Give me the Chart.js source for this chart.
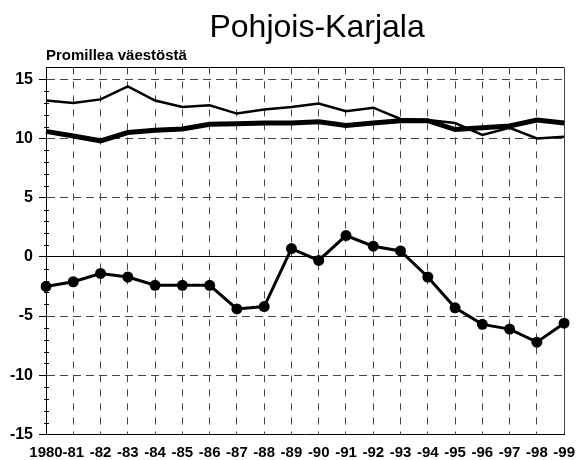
<!DOCTYPE html>
<html>
<head>
<meta charset="utf-8">
<script src="https://cdn.jsdelivr.net/npm/chart.js@4/dist/chart.umd.min.js"></script>
<style>
  body { margin: 0; background: #fff; }
  #wrap { width: 584px; height: 460px; }
</style>
</head>
<body>
<div id="wrap"><canvas id="chart"></canvas></div>
<script>
const years = ['1980', '-81', '-82', '-83', '-84', '-85', '-86', '-87', '-88', '-89',
               '-90', '-91', '-92', '-93', '-94', '-95', '-96', '-97', '-98', '-99'];
const netChange = [-2.5, -2.1, -1.4, -1.7, -2.4, -2.4, -2.4, -4.4, -4.2, 0.7,
                   -0.3, 1.8, 0.9, 0.5, -1.7, -4.3, -5.7, -6.1, -7.2, -5.6];
const thinSeries = [13.2, 13.0, 13.3, 14.4, 13.2, 12.65, 12.8, 12.1, 12.45, 12.65,
                    12.95, 12.3, 12.6, 11.65, 11.55, 11.3, 10.3, 10.9, 10.0, 10.15];
const thickSeries = [10.6, 10.2, 9.8, 10.5, 10.7, 10.8, 11.2, 11.25, 11.3, 11.3,
                     11.4, 11.1, 11.3, 11.5, 11.5, 10.75, 10.9, 11.05, 11.55, 11.3];
const yTicks = [-15, -10, -5, 0, 5, 10, 15];
const yMin = -15, yMax = 16;

const FONT = "'Liberation Sans', Arial, sans-serif";

// small tick marks on the y axis between the labelled ones
const minorTicks = {
    id: 'minorTicks',
    afterLayout(chart) {
        // title sits a bit right of the plot centre in the original
        if (chart.titleBlock) {
            chart.titleBlock.left += 12;
            chart.titleBlock.right += 12;
        }
    },
    afterDraw(chart) {
        const y = chart.scales.y;
        const c = chart.ctx;
        c.save();
        c.strokeStyle = '#000';
        c.lineWidth = 1;
        for (let v = yMin; v < 15; v++) {
            if (v % 5 === 0) continue;
            const py = Math.round(y.getPixelForValue(v)) + 0.5;
            c.beginPath();
            c.moveTo(y.right - 2, py);
            c.lineTo(y.right + 3, py);
            c.stroke();
        }
        c.restore();
    }
};

let ctx = document.getElementById('chart');

let myChart = new Chart(ctx, {
    type: 'line',
    data: {
        labels: years,
        datasets: [
            {
                data: netChange,
                borderColor: '#000',
                backgroundColor: '#000',
                borderWidth: 3,
                pointRadius: 5.5,
                pointBackgroundColor: '#000',
                pointBorderWidth: 0,
                tension: 0
            },
            {
                data: thinSeries,
                borderColor: '#000',
                borderWidth: 2.5,
                pointRadius: 0,
                tension: 0
            },
            {
                data: thickSeries,
                borderColor: '#000',
                borderWidth: 5,
                pointRadius: 0,
                tension: 0
            }
        ]
    },
    options: {
        responsive: true,
        maintainAspectRatio: false,
        animation: false,
        layout: { padding: { left: 0, right: 13, top: 0, bottom: 0 } },
        plugins: {
            legend: { display: false },
            tooltip: { enabled: false },
            title: {
                display: true,
                text: 'Pohjois-Karjala',
                fullSize: false,
                color: '#000',
                font: { family: FONT, size: 32, weight: 'normal', lineHeight: 1.0 },
                padding: { top: 12, bottom: 0 }
            },
            subtitle: {
                display: true,
                text: 'Promillea väestöstä',
                align: 'start',
                fullSize: false,
                color: '#000',
                font: { family: FONT, size: 15, weight: 'bold', lineHeight: 1.0 },
                padding: { top: 4.4, bottom: 4 }
            }
        },
        scales: {
            x: {
                offset: false,
                afterFit: s => { s.height = 25.5; },
                grid: {
                    color: '#444',
                    lineWidth: 1,
                    drawTicks: false
                },
                border: {
                    color: '#000',
                    width: 1,
                    dash: c => (c.index === years.length - 1 ? [] : [7, 7])
                },
                ticks: {
                    color: '#000',
                    padding: 9,
                    maxRotation: 0,
                    autoSkip: false,
                    font: { family: FONT, size: 15, weight: 'bold' }
                }
            },
            y: {
                min: yMin,
                max: yMax,
                afterFit: s => { s.width = 46; },
                afterBuildTicks: s => {
                    s.ticks = yTicks.concat([yMax]).map(v => ({ value: v }));
                },
                grid: {
                    color: c => (c.tick && (c.tick.value === 0 || c.tick.value === yMax) ? '#000' : '#444'),
                    lineWidth: 1,
                    tickLength: 7,
                    tickColor: c => (c.tick && c.tick.value === yMax ? 'rgba(0,0,0,0)' : '#000')
                },
                border: {
                    color: '#000',
                    width: 1,
                    dash: c => (c.tick && (c.tick.value === 0 || c.tick.value === yMax) ? [] : [8, 5])
                },
                ticks: {
                    color: '#000',
                    padding: 6,
                    font: { family: FONT, size: 16, weight: 'bold' },
                    callback: v => (yTicks.includes(v) ? v : '')
                }
            }
        }
    },
    plugins: [minorTicks]
});
</script>
</body>
</html>
